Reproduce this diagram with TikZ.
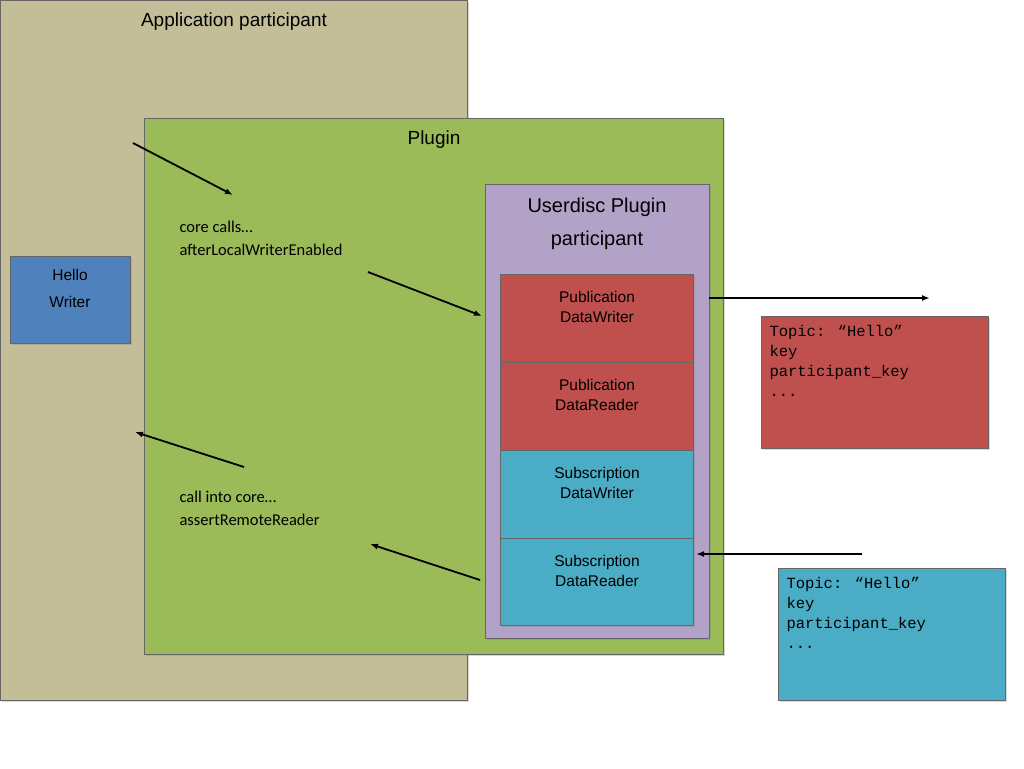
\documentclass[tikz,border=0pt]{standalone}
\usepackage{fontspec}
\setmainfont{Liberation Sans}
\newfontfamily\calfont{Carlito}
\newfontfamily\monofont{Liberation Mono}
\usetikzlibrary{arrows.meta,shadows}
\definecolor{tan}{HTML}{C4BE98}
\definecolor{grn}{HTML}{9BBB59}
\definecolor{lav}{HTML}{B3A2C7}
\definecolor{rd}{HTML}{C0504D}
\definecolor{cy}{HTML}{4BACC6}
\definecolor{bl}{HTML}{4F81BD}
\begin{document}
\begin{tikzpicture}[x=1pt,y=-1pt,
 box/.style={draw=black!60,line width=0.6pt,drop shadow={shadow xshift=2pt,shadow yshift=-2pt,opacity=0.3}},
 lbl/.style={font=\fontsize{19}{22}\selectfont,align=center},
 cell/.style={font=\fontsize{15.5}{20}\selectfont,align=center},
 note/.style={font=\calfont\fontsize{16.5}{23}\selectfont,align=left,anchor=west},
 topic/.style={font=\monofont\fontsize{15.5}{20}\selectfont,align=left,anchor=north west},
 arr/.style={-{Latex[length=8pt,width=6pt]},line width=1.8pt}]
\useasboundingbox (0,0) rectangle (1024,768);
\fill[white] (0,0) rectangle (1024,768);
\draw[box,fill=tan] (0,0) rectangle (467,700);
\node[lbl] (app) at (234,22) {Application participant};
\draw[box,fill=grn] (144,118) rectangle (723,654);
\node[lbl] (plug) at (434,140) {Plugin};
\draw[box,fill=lav] (485,184) rectangle (709,638);
\node[lbl,font=\fontsize{20}{33}\selectfont] (ud) at (597,224) {Userdisc Plugin\\participant};
\draw[box,fill=rd] (500,274) rectangle (693,362);
\node[cell] (pdw) at (597,307) {Publication\\DataWriter};
\draw[box,fill=rd] (500,362) rectangle (693,450);
\node[cell] (pdr) at (597,395) {Publication\\DataReader};
\draw[box,fill=cy] (500,450) rectangle (693,538);
\node[cell] (sdw) at (597,483) {Subscription\\DataWriter};
\draw[box,fill=cy] (500,538) rectangle (693,625);
\node[cell] (sdr) at (597,571) {Subscription\\DataReader};
\draw[box,fill=bl] (10,256) rectangle (130,343);
\node[cell,font=\fontsize{15.5}{27}\selectfont] (hw) at (70,288) {Hello\\Writer};
\draw[box,fill=rd] (761,316) rectangle (988,448);
\node[topic] (t1) at (766,322) {Topic: “Hello”\\key\\participant\_key\\...};
\draw[box,fill=cy] (778,568) rectangle (1005,700);
\node[topic] (t2) at (783,574) {Topic: “Hello”\\key\\participant\_key\\...};
\node[note] (n1) at (176,238) {core calls…\\afterLocalWriterEnabled};
\node[note] (n2) at (176,508) {call into core…\\assertRemoteReader};
\coordinate (a1s) at (133,143); \coordinate (a1e) at (233,195);
\coordinate (a2s) at (368,272); \coordinate (a2e) at (482,316);
\coordinate (a3s) at (709,298); \coordinate (a3e) at (930,298);
\coordinate (a4s) at (244,467); \coordinate (a4e) at (135,432);
\coordinate (a5s) at (480,580); \coordinate (a5e) at (370,544);
\coordinate (a6s) at (862,554); \coordinate (a6e) at (696,554);
\foreach \i in {1,...,6} \draw[arr] (a\i s) -- (a\i e);
\end{tikzpicture}
\end{document}
